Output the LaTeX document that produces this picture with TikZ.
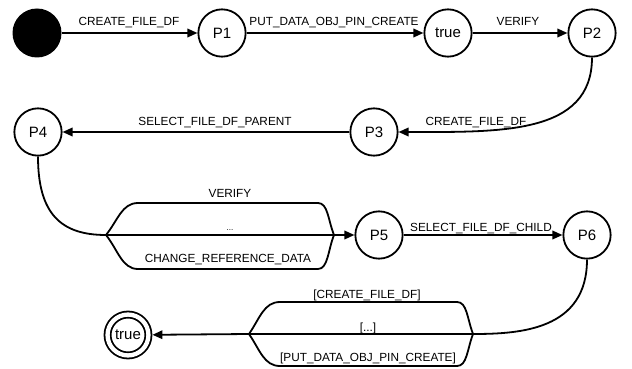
\documentclass[tikz,border=0pt]{standalone}
\usepackage{fontspec}
\setmainfont{Liberation Sans}
\usetikzlibrary{arrows.meta}
\begin{document}
\begin{tikzpicture}[x=1pt,y=-1pt,
  state/.style={circle,draw,line width=1.8pt,minimum size=47.3pt,inner sep=0pt,font=\fontsize{15}{15}\selectfont},
  startstate/.style={circle,fill=black,minimum size=49pt,inner sep=0pt},
  finalstate/.style={state,double,double distance=4.3pt,minimum size=40.9pt,outer sep=4pt},
  lbl/.style={font=\fontsize{11.8}{12}\selectfont,inner sep=0pt,anchor=base},
  conn/.style={line width=1.8pt},
  arr/.style={conn,-{Triangle[length=10pt,width=8.5pt]}}]
\useasboundingbox (0,0) rectangle (632,369);
% states
\node[startstate] (s) at (37,33) {};
\node[state] (p1) at (222,33) {P1};
\node[state] (t) at (448,33) {true};
\node[state] (p2) at (592,33) {P2};
\node[state] (p3) at (374,132) {P3};
\node[state] (p4) at (38,132) {P4};
\node[state] (p5) at (379,235) {P5};
\node[state] (p6) at (587,235) {P6};
\node[finalstate] (fin) at (128,335) {true};
% fork / join points
\coordinate (f1) at (106,235);
\coordinate (j1) at (334,235);
\coordinate (f2) at (249,334);
\coordinate (j2) at (473,334);
% row 1
\draw[arr] (s) -- (p1);
\draw[arr] (p1) -- (t);
\draw[arr] (t) -- (p2);
% row 2
\draw[arr] (p2.south) .. controls (592,135) and (500,132) .. (p3.east);
\draw[arr] (p3) -- (p4);
% row 3
\draw[conn] (p4.south) .. controls (38,215) and (62,235) .. (f1);
\draw[conn] (f1) .. controls (118,220) and (122,203) .. (138,203) -- (318,203) .. controls (328,203) and (328,220) .. (j1);
\draw[conn] (f1) -- (j1);
\draw[conn] (f1) .. controls (118,250) and (122,269) .. (138,269) -- (318,269) .. controls (328,269) and (328,250) .. (j1);
\draw[arr] (j1) -- (p5);
\draw[arr] (p5) -- (p6);
% row 4
\draw[conn] (p6.south) .. controls (587,330) and (520,334) .. (j2);
\draw[conn] (j2) .. controls (467,318) and (467,302) .. (457,302) -- (280,302) .. controls (264,302) and (260,318) .. (f2);
\draw[conn] (j2) -- (f2);
\draw[conn] (j2) .. controls (467,350) and (467,366) .. (457,366) -- (280,366) .. controls (264,366) and (260,350) .. (f2);
\draw[arr] (f2) -- (fin);
% labels
\node[lbl] (l1) at (129,26) {CREATE\_FILE\_DF};
\node[lbl] (l2) at (334,26) {PUT\_DATA\_OBJ\_PIN\_CREATE};
\node[lbl] (l3) at (518,26) {VERIFY};
\node[lbl] (l4) at (215,125) {SELECT\_FILE\_DF\_PARENT};
\node[lbl] (l5) at (476,125) {CREATE\_FILE\_DF};
\node[lbl] (l6) at (230,197) {VERIFY};
\node[lbl,font=\fontsize{8}{8}\selectfont] (l7) at (230,230) {...};
\node[lbl] (l8) at (228,262) {CHANGE\_REFERENCE\_DATA};
\node[lbl] (l9) at (481,231) {SELECT\_FILE\_DF\_CHILD};
\node[lbl] (l10) at (367,298) {[CREATE\_FILE\_DF]};
\node[lbl] (l11) at (368,331) {[...]};
\node[lbl] (l12) at (368,361) {[PUT\_DATA\_OBJ\_PIN\_CREATE]};
\end{tikzpicture}
\end{document}
